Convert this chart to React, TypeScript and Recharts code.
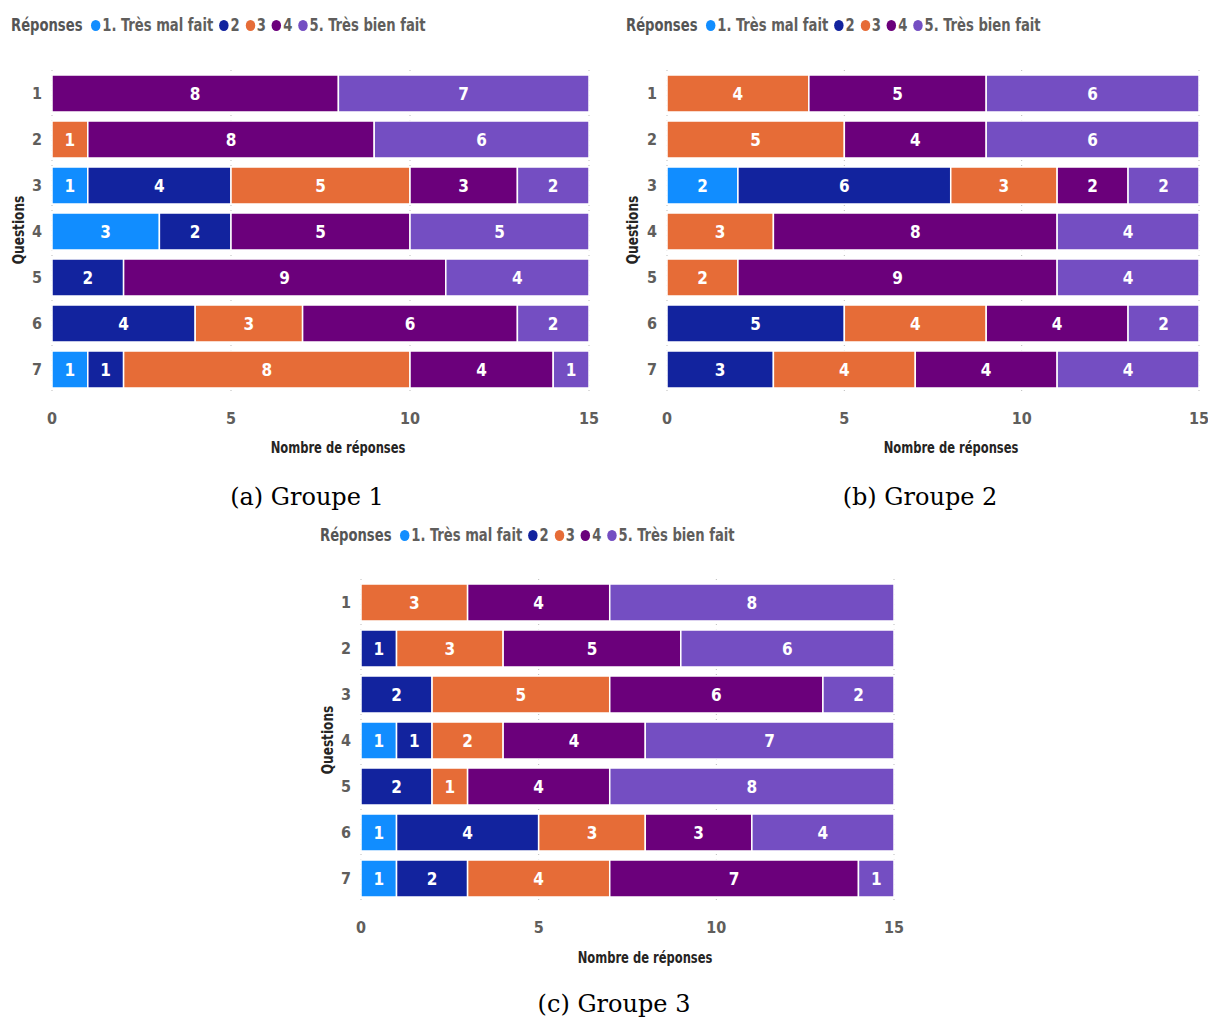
import React from 'react';
import { BarChart, Bar, XAxis, YAxis, CartesianGrid, LabelList } from 'recharts';

const questions = ['1', '2', '3', '4', '5', '6', '7'];
const responseKeys = ['r1', 'r2', 'r3', 'r4', 'r5'];
const responseNames = ['1. Très mal fait', '2', '3', '4', '5. Très bien fait'];
const COLORS = ['#118DFF', '#12239E', '#E66C37', '#6B007B', '#744EC2'];
const xTicks = [0, 5, 10, 15];

// Groupe 1
const g1r1 = [0, 0, 1, 3, 0, 0, 1];
const g1r2 = [0, 0, 4, 2, 2, 4, 1];
const g1r3 = [0, 1, 5, 0, 0, 3, 8];
const g1r4 = [8, 8, 3, 5, 9, 6, 4];
const g1r5 = [7, 6, 2, 5, 4, 2, 1];

// Groupe 2
const g2r1 = [0, 0, 2, 0, 0, 0, 0];
const g2r2 = [0, 0, 6, 0, 0, 5, 3];
const g2r3 = [4, 5, 3, 3, 2, 4, 4];
const g2r4 = [5, 4, 2, 8, 9, 4, 4];
const g2r5 = [6, 6, 2, 4, 4, 2, 4];

// Groupe 3
const g3r1 = [0, 0, 0, 1, 0, 1, 1];
const g3r2 = [0, 1, 2, 1, 2, 4, 2];
const g3r3 = [3, 3, 5, 2, 1, 3, 4];
const g3r4 = [4, 5, 6, 4, 4, 3, 7];
const g3r5 = [8, 6, 2, 7, 8, 4, 1];

const buildRows = (series: number[][]) =>
  questions.map((q, i) => {
    const row: Record<string, string | number | null> = { q };
    responseKeys.forEach((k, j) => {
      row[k] = series[j][i] > 0 ? series[j][i] : null;
    });
    return row;
  });

const FONT = "'DejaVu Sans Condensed', 'Noto Sans', sans-serif";

function Legend({ left, top }: { left: number; top: number }) {
  return (
    <div
      style={{
        position: 'absolute',
        left,
        top,
        display: 'flex',
        alignItems: 'center',
        fontFamily: FONT,
        fontWeight: 700,
        fontSize: 17,
        color: '#605E5C',
        whiteSpace: 'nowrap',
        transform: 'scaleX(0.86)',
        transformOrigin: 'left center',
      }}
    >
      <span style={{ marginRight: 10, color: '#555' }}>Réponses</span>
      {responseNames.map((n, i) => (
        <span key={n} style={{ display: 'flex', alignItems: 'center', marginRight: 7 }}>
          <span
            style={{
              width: 11,
              height: 11,
              borderRadius: '50%',
              background: COLORS[i],
              display: 'inline-block',
              marginRight: 2,
            }}
          />
          {n}
        </span>
      ))}
    </div>
  );
}

function Panel({
  rows,
  left,
  top,
  width,
}: {
  rows: Record<string, string | number | null>[];
  left: number;
  top: number;
  width: number;
}) {
  return (
    <div style={{ position: 'absolute', left, top }}>
      <BarChart
        width={width}
        height={370}
        data={rows}
        layout="vertical"
        margin={{ top: 10, right: 11, left: 22, bottom: 8 }}
        barSize={37}
      >
        <CartesianGrid horizontal={false} strokeDasharray="1 4" stroke="#bbb" />
        <XAxis
          type="number"
          domain={[0, 15]}
          ticks={xTicks}
          axisLine={false}
          tickLine={false}
          tickSize={0}
          tickMargin={21}
          tick={{ fontSize: 16, fill: '#605E5C', fontWeight: 700, fontFamily: FONT }}
        />
        <YAxis
          type="category"
          dataKey="q"
          width={30}
          axisLine={false}
          tickLine={false}
          tickSize={0}
          tickMargin={10}
          tick={{ fontSize: 16, fill: '#605E5C', fontWeight: 700, fontFamily: FONT }}
        />
        {responseKeys.map((k, i) => (
          <Bar
            key={k}
            dataKey={k}
            stackId="a"
            fill={COLORS[i]}
            stroke="#fff"
            strokeWidth={1.5}
            isAnimationActive={false}
          >
            <LabelList
              dataKey={k}
              position="center"
              fill="#fff"
              style={{ fontSize: 17, fontWeight: 700, fontFamily: FONT }}
            />
          </Bar>
        ))}
      </BarChart>
    </div>
  );
}

function AxisTitle({ x, y, text }: { x: number; y: number; text: string }) {
  return (
    <div
      style={{
        position: 'absolute',
        left: x,
        top: y,
        transform: 'translate(-50%, -50%) scaleX(0.8)',
        fontFamily: FONT,
        fontWeight: 700,
        fontSize: 16,
        color: '#252423',
        whiteSpace: 'nowrap',
      }}
    >
      {text}
    </div>
  );
}

function QuestionsLabel({ x, y }: { x: number; y: number }) {
  return (
    <div
      style={{
        position: 'absolute',
        left: x,
        top: y,
        transform: 'translate(-50%, -50%) rotate(-90deg) scaleX(0.9)',
        fontFamily: FONT,
        fontWeight: 700,
        fontSize: 15,
        color: '#252423',
        whiteSpace: 'nowrap',
      }}
    >
      Questions
    </div>
  );
}

function Caption({ x, y, text }: { x: number; y: number; text: string }) {
  return (
    <div
      style={{
        position: 'absolute',
        left: x,
        top: y,
        transform: 'translate(-50%, -50%)',
        fontFamily: "'DejaVu Serif', 'Liberation Serif', serif",
        fontSize: 24,
        color: '#000',
        whiteSpace: 'nowrap',
      }}
    >
      {text}
    </div>
  );
}

export default function App() {
  const rows1 = buildRows([g1r1, g1r2, g1r3, g1r4, g1r5]);
  const rows2 = buildRows([g2r1, g2r2, g2r3, g2r4, g2r5]);
  const rows3 = buildRows([g3r1, g3r2, g3r3, g3r4, g3r5]);
  return (
    <div
      style={{
        position: 'absolute',
        left: 0,
        top: 0,
        width: 1208,
        height: 1019,
        overflow: 'hidden',
        background: '#fff',
      }}
    >
      <Legend left={11} top={15} />
      <Panel rows={rows1} left={0} top={60} width={600} />
      <QuestionsLabel x={19} y={230} />
      <AxisTitle x={338} y={447} text="Nombre de réponses" />
      <Caption x={307} y={497} text="(a) Groupe 1" />

      <Legend left={626} top={15} />
      <Panel rows={rows2} left={615} top={60} width={595} />
      <QuestionsLabel x={633} y={230} />
      <AxisTitle x={951} y={447} text="Nombre de réponses" />
      <Caption x={920} y={497} text="(b) Groupe 2" />

      <Legend left={320} top={525} />
      <Panel rows={rows3} left={309} top={569} width={596} />
      <QuestionsLabel x={328} y={740} />
      <AxisTitle x={645} y={957} text="Nombre de réponses" />
      <Caption x={614} y={1004} text="(c) Groupe 3" />
    </div>
  );
}
